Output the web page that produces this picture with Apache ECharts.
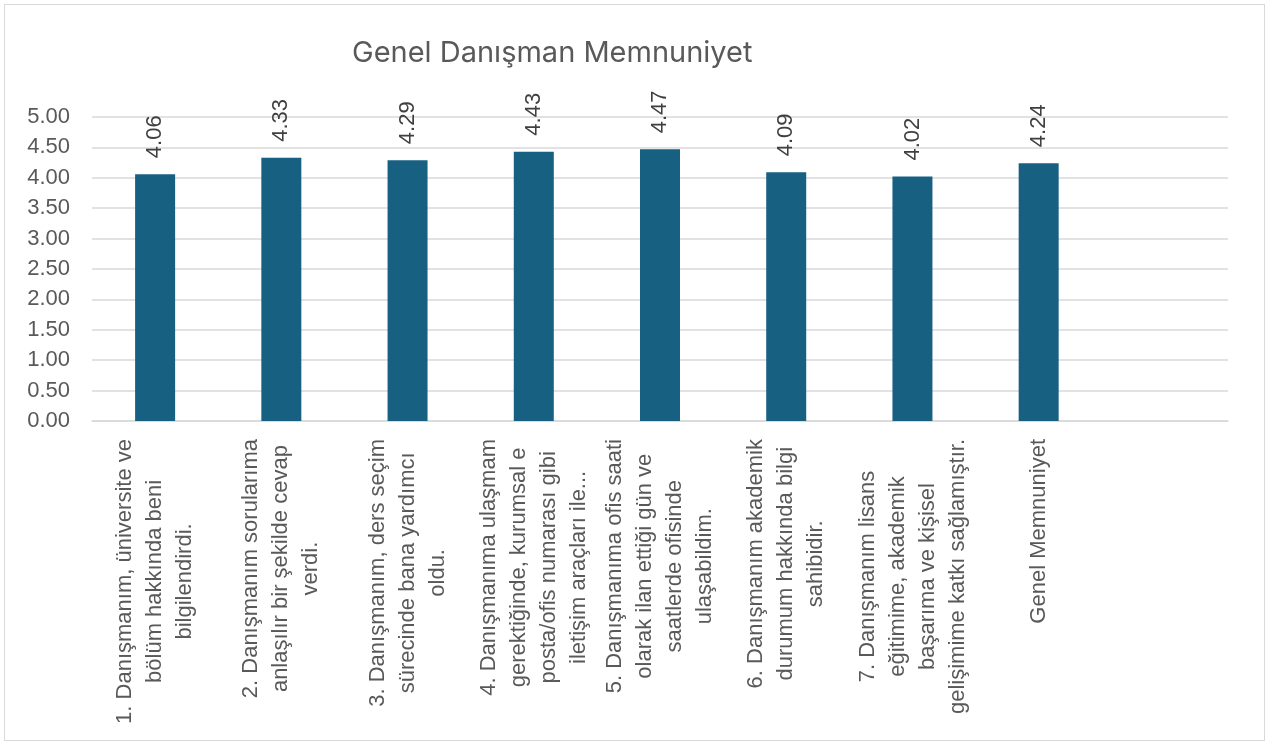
<!DOCTYPE html>
<html>
<head>
<meta charset="utf-8">
<script src="https://cdn.jsdelivr.net/npm/echarts@6/dist/echarts.min.js"></script>
<style>
  html, body { margin: 0; padding: 0; background: #fff; }
  #chart { width: 1270px; height: 743px; }
  .frame {
    position: absolute; left: 4px; top: 4px; width: 1259px; height: 735px;
    border: 1px solid #d9d9d9; pointer-events: none;
  }
</style>
</head>
<body>
<div id="chart"></div>
<div class="frame"></div>
<script>
// Question labels (line breaks as in the original chart)
const categories = [
  '1. Danışmanım, üniversite ve\nbölüm hakkında beni\nbilgilendirdi.',
  '2. Danışmanım sorularıma\nanlaşılır bir şekilde cevap\nverdi.',
  '3. Danışmanım, ders seçim\nsürecinde bana yardımcı\noldu.',
  '4. Danışmanıma ulaşmam\ngerektiğinde, kurumsal e\nposta/ofis numarası gibi\niletişim araçları ile...',
  '5. Danışmanıma ofis saati\nolarak ilan ettiği gün ve\nsaatlerde ofisinde\nulaşabildim.',
  '6. Danışmanım akademik\ndurumum hakkında bilgi\nsahibidir.',
  '7. Danışmanım lisans\neğitimime, akademik\nbaşarıma ve kişisel\ngelişimime katkı sağlamıştır.',
  'Genel Memnuniyet',
  ''
]
const scores = [4.06, 4.33, 4.29, 4.43, 4.47, 4.09, 4.02, 4.24, null]

const titleText = 'Genel Danışman Memnuniyet'
const yMin = 0
const yMax = 5
const yStep = 0.5

const chart = echarts.init(document.getElementById('chart'))

const gridColor = '#d9d9d9'
const labelColor = '#595959'

chart.setOption({
  animation: false,
  title: {
    text: titleText,
    left: 347,
    top: 34,
    textStyle: {
      fontFamily: 'Inter',
      fontSize: 29,
      fontWeight: 'normal',
      color: labelColor
    }
  },
  grid: {
    left: 92,
    right: 42,
    top: 117,
    bottom: 322
  },
  xAxis: {
    type: 'category',
    data: categories,
    axisTick: { show: false },
    axisLine: { lineStyle: { color: gridColor, width: 1.5 } },
    axisLabel: {
      interval: 0,
      rotate: 90,
      margin: 18,
      color: labelColor,
      fontFamily: 'Liberation Sans',
      fontSize: 22,
      lineHeight: 30,
      // center each line inside the rotated block
      formatter: (value) => value.split('\n').map(s => '{c|' + s + '}').join('\n'),
      rich: {
        c: {
          align: 'center',
          color: labelColor,
          fontFamily: 'Liberation Sans',
          fontSize: 22,
          lineHeight: 30
        }
      }
    }
  },
  yAxis: {
    type: 'value',
    min: yMin,
    max: yMax,
    interval: yStep,
    axisLine: { show: false },
    axisTick: { show: false },
    splitLine: { lineStyle: { color: gridColor, width: 1.5 } },
    axisLabel: {
      margin: 22,
      color: labelColor,
      fontFamily: 'Liberation Sans',
      fontSize: 22,
      formatter: (v) => v.toFixed(2)
    }
  },
  series: [
    {
      type: 'bar',
      data: scores,
      barWidth: 40,
      itemStyle: { color: '#176082' },
      label: {
        show: true,
        position: 'top',
        rotate: 90,
        align: 'left',
        verticalAlign: 'middle',
        distance: 16,
        color: '#404040',
        fontFamily: 'Liberation Sans',
        fontSize: 22,
        formatter: (p) => p.value.toFixed(2)
      }
    }
  ]
})
</script>
</body>
</html>
